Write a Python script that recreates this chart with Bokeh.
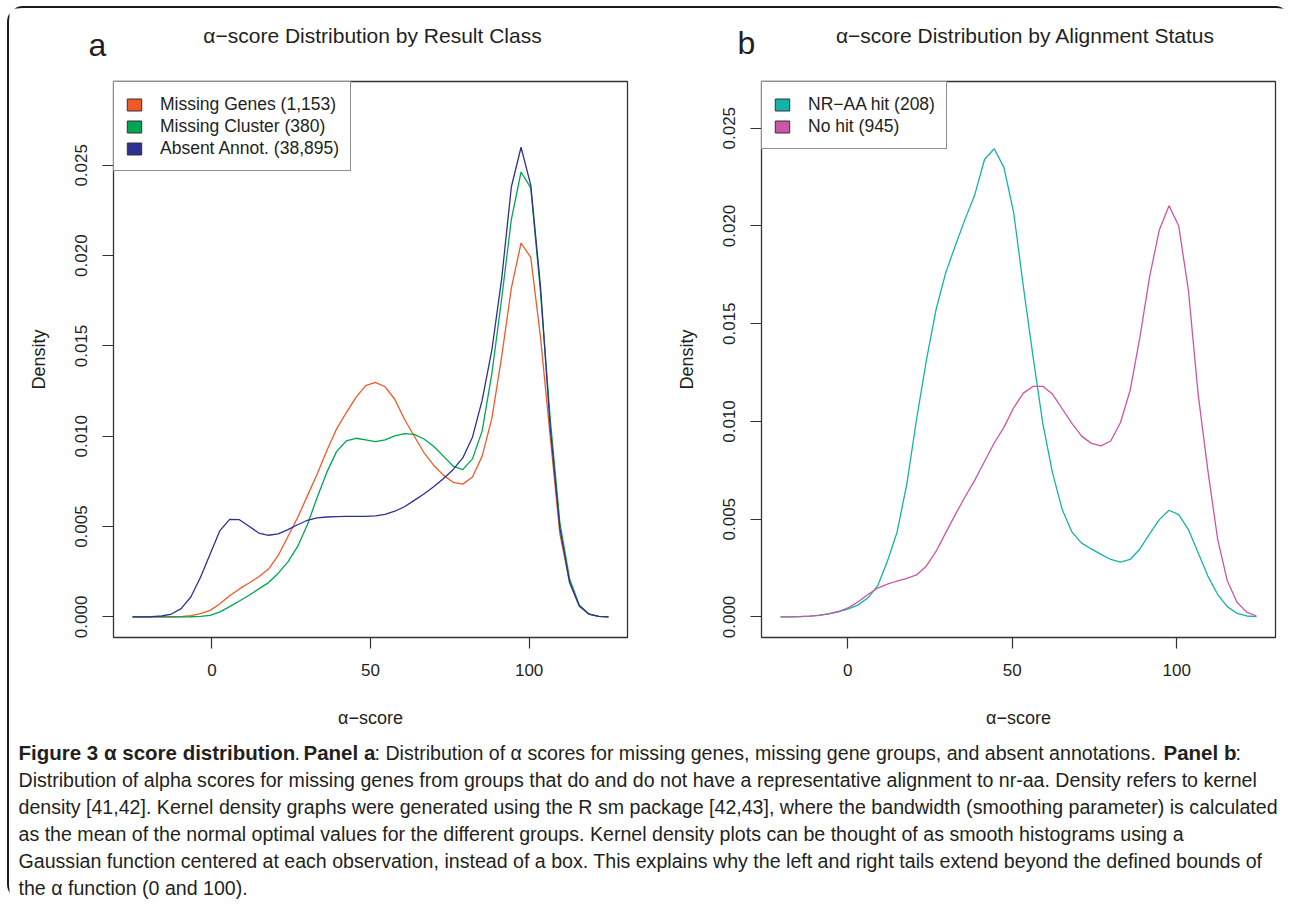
from bokeh.plotting import figure
from bokeh.models import Range1d, FixedTicker, PrintfTickFormatter, Label, Legend, LegendItem
from bokeh.layouts import column, row
from bokeh.embed import file_html
from bokeh.resources import INLINE

FONT = "Liberation Sans"
TXT = "#231F20"

# ---------------- data ----------------
# Panel a: density evaluation grid and curves
alpha_a = [-25.0, -21.94, -18.88, -15.82, -12.76, -9.69, -6.63, -3.57, -0.51, 2.55,
           5.61, 8.67, 11.73, 14.8, 17.86, 20.92, 23.98, 27.04, 30.1, 33.16,
           36.22, 39.29, 42.35, 45.41, 48.47, 51.53, 54.59, 57.65, 60.71, 63.78,
           66.84, 69.9, 72.96, 76.02, 79.08, 82.14, 85.2, 88.27, 91.33, 94.39,
           97.45, 100.51, 103.57, 106.63, 109.69, 112.76, 115.82, 118.88, 121.94, 125.0]
missing_genes = [0.0, 0.0, 0.0, 0.0, 0.00001, 0.00002, 0.00007, 0.00018, 0.00036, 0.00073,
                 0.00117, 0.00155, 0.00188, 0.00222, 0.00265, 0.0034, 0.00445, 0.0055, 0.0067, 0.0079,
                 0.0092, 0.0104, 0.0113, 0.01215, 0.0128, 0.01298, 0.01274, 0.01205, 0.01094, 0.0100,
                 0.0091, 0.0084, 0.00785, 0.00745, 0.00735, 0.00775, 0.0089, 0.0110, 0.0144, 0.0182,
                 0.0207, 0.0199, 0.0155, 0.0100, 0.0046, 0.0019, 0.0006, 0.00015, 0.00003, 0.0]
missing_cluster = [0.0, 0.0, 0.0, 0.0, 0.0, 0.0, 0.00001, 0.00003, 0.00008, 0.00028,
                   0.00057, 0.00088, 0.0012, 0.00155, 0.0019, 0.00242, 0.00305, 0.0039, 0.0051, 0.0066,
                   0.0080, 0.00915, 0.00974, 0.00989, 0.0098, 0.0097, 0.0098, 0.01002, 0.01015, 0.0101,
                   0.00985, 0.00945, 0.0089, 0.00835, 0.00815, 0.00875, 0.0103, 0.0135, 0.0176, 0.0220,
                   0.02463, 0.02375, 0.0180, 0.0110, 0.0052, 0.0021, 0.00065, 0.00016, 0.00003, 0.0]
absent_annot = [0.0, 0.0, 0.00001, 0.00005, 0.00016, 0.00046, 0.0011, 0.0022, 0.0035, 0.00478,
                0.0054, 0.00538, 0.00502, 0.00464, 0.00452, 0.0046, 0.00483, 0.0051, 0.00535, 0.00548,
                0.00553, 0.00555, 0.00556, 0.00556, 0.00557, 0.00559, 0.00568, 0.00585, 0.0061, 0.00645,
                0.0068, 0.0072, 0.00765, 0.00815, 0.0088, 0.00995, 0.0120, 0.0148, 0.0187, 0.0238,
                0.0260, 0.0239, 0.0183, 0.0105, 0.0049, 0.0019, 0.0006, 0.00015, 0.00003, 0.0]
labels_a = ["Missing Genes (1,153)", "Missing Cluster (380)", "Absent Annot. (38,895)"]
colors_a = ["#F05A28", "#00A651", "#2E3192"]

# Panel b
alpha_b = [-20.4, -17.45, -14.5, -11.55, -8.6, -5.65, -2.69, 0.26, 3.21, 6.16,
           9.11, 12.06, 15.01, 17.96, 20.91, 23.87, 26.82, 29.77, 32.72, 35.67,
           38.62, 41.57, 44.52, 47.47, 50.42, 53.38, 56.33, 59.28, 62.23, 65.18,
           68.13, 71.08, 74.03, 76.98, 79.93, 82.89, 85.84, 88.79, 91.74, 94.69,
           97.64, 100.59, 103.54, 106.49, 109.44, 112.4, 115.35, 118.3, 121.25, 124.2]
nr_aa_hit = [0.0, 0.00001, 0.00002, 0.00004, 0.00009, 0.00017, 0.00028, 0.00041, 0.00062, 0.00098,
             0.0016, 0.00285, 0.00435, 0.0068, 0.0101, 0.0131, 0.0157, 0.0176, 0.0190, 0.02035,
             0.0216, 0.0234, 0.02395, 0.0230, 0.0207, 0.0169, 0.0133, 0.0099, 0.00737, 0.0055,
             0.00435, 0.00378, 0.00348, 0.0032, 0.00294, 0.0028, 0.00294, 0.00348, 0.00425, 0.00498,
             0.00546, 0.00524, 0.00447, 0.00328, 0.00209, 0.00116, 0.00053, 0.00019, 0.00005, 0.00002]
no_hit = [0.0, 0.00001, 0.00002, 0.00004, 0.00008, 0.00016, 0.00028, 0.00048, 0.00078, 0.00115,
          0.00148, 0.00168, 0.00184, 0.00198, 0.00215, 0.0026, 0.00335, 0.0043, 0.00525, 0.00615,
          0.0070, 0.00795, 0.0089, 0.0097, 0.0107, 0.01145, 0.0118, 0.0118, 0.0114, 0.01065,
          0.0099, 0.00925, 0.00888, 0.00875, 0.0090, 0.00995, 0.0116, 0.0143, 0.0174, 0.0198,
          0.02104, 0.0200, 0.0167, 0.0114, 0.0075, 0.0040, 0.00185, 0.00075, 0.00025, 0.00005]
labels_b = ["NR\u2212AA hit (208)", "No hit (945)"]
colors_b = ["#14B3AA", "#CC55A8"]

x_ticks = [0, 50, 100]
y_ticks = [0.0, 0.005, 0.010, 0.015, 0.020, 0.025]

title_a = "\u03b1\u2212score Distribution by Result Class"
title_b = "\u03b1\u2212score Distribution by Alignment Status"
x_label = "\u03b1\u2212score"
y_label = "Density"

caption_lines = [
    [("Figure 3 \u03b1 score distribution", "bold", 18),
     (".", "normal", 294),
     ("Panel a", "bold", 303),
     (": Distribution of \u03b1 scores for missing genes, missing gene groups, and absent annotations.", "normal", 374),
     ("Panel b", "bold", 1163),
     (":", "normal", 1235)],
    [("Distribution of alpha scores for missing genes from groups that do and do not have a representative alignment to nr-aa. Density refers to kernel", "normal", 18)],
    [("density [41,42]. Kernel density graphs were generated using the R sm package [42,43], where the bandwidth (smoothing parameter) is calculated", "normal", 18)],
    [("as the mean of the normal optimal values for the different groups. Kernel density plots can be thought of as smooth histograms using a", "normal", 18)],
    [("Gaussian function centered at each observation, instead of a box. This explains why the left and right tails extend beyond the defined bounds of", "normal", 18)],
    [("the \u03b1 function (0 and 100).", "normal", 18)],
]

OX, OY = 9, 8          # page offset of the layout content (inside the frame border)
HEADER_H = 71


def make_panel(xs, series, labels, colors, xr, yr, bl, br):
    p = figure(width=641, height=651, x_range=Range1d(*xr), y_range=Range1d(*yr),
               toolbar_location=None, output_backend="svg",
               min_border_left=bl, min_border_right=br, min_border_top=2, min_border_bottom=92)
    p.xgrid.visible = False
    p.ygrid.visible = False
    p.background_fill_color = "white"
    p.border_fill_color = "white"
    p.outline_line_color = "#333333"
    p.outline_line_width = 1.3
    for ax in p.axis:
        ax.axis_line_color = None
        ax.major_tick_line_color = "#333333"
        ax.major_tick_line_width = 1.2
        ax.major_tick_out = 11
        ax.major_tick_in = 0
        ax.minor_tick_line_color = None
        ax.major_label_text_font = FONT
        ax.major_label_text_font_size = "17px"
        ax.major_label_text_color = TXT
        ax.axis_label_text_font = FONT
        ax.axis_label_text_font_size = "18px"
        ax.axis_label_text_font_style = "normal"
        ax.axis_label_text_color = TXT
    p.xaxis.ticker = FixedTicker(ticks=x_ticks)
    p.yaxis.ticker = FixedTicker(ticks=y_ticks)
    p.yaxis.formatter = PrintfTickFormatter(format="%.3f")
    p.yaxis.major_label_orientation = "vertical"
    p.xaxis.major_label_standoff = 15
    p.yaxis.major_label_standoff = 15
    p.xaxis.axis_label = x_label
    p.yaxis.axis_label = y_label
    p.xaxis.axis_label_standoff = 29
    p.yaxis.axis_label_standoff = 24

    items = []
    for ys, lab, c in zip(series, labels, colors):
        # hidden zero-width bars under each curve: they only supply the legend swatch
        sw = p.quad(left=xs, right=xs, bottom=0, top=ys, fill_color=c,
                    line_color="#333333", line_width=1, visible=False)
        p.line(xs, ys, line_color=c, line_width=1.3)
        items.append(LegendItem(label=lab, renderers=[sw]))
    leg = Legend(items=items, location="top_left", margin=0, padding=11, spacing=0,
                 glyph_width=18, glyph_height=15, label_height=22, label_standoff=17,
                 label_text_font=FONT, label_text_font_size="17.5px", label_text_color=TXT,
                 border_line_color="#222222", border_line_width=1,
                 background_fill_color="white", background_fill_alpha=1.0,
                 inactive_fill_alpha=0.0)
    p.add_layout(leg)
    return p


def header_label(text, px, py, size, baseline):
    return Label(x=px - OX, y=OY + HEADER_H - py, x_units="screen", y_units="screen", text=text,
                 text_align="center", text_baseline=baseline, text_font=FONT,
                 text_font_size=size, text_color=TXT)


head = figure(width=1282, height=HEADER_H, x_range=Range1d(0, 1282), y_range=Range1d(0, HEADER_H),
              toolbar_location=None, output_backend="svg", min_border=0)
head.axis.visible = False
head.xgrid.visible = False
head.ygrid.visible = False
head.outline_line_color = None
head.background_fill_color = "white"
head.border_fill_color = "white"
head.add_layout(header_label(title_a, 372, 35, "21px", "middle"))
head.add_layout(header_label(title_b, 1025, 35, "21px", "middle"))
head.add_layout(header_label("a", 97, 44, "32px", "middle"))
head.add_layout(header_label("b", 746, 42, "32px", "middle"))

pa = make_panel(alpha_a, [missing_genes, missing_cluster, absent_annot], labels_a, colors_a,
                (-31.0, 131.0), (-0.00114, 0.02964), 104, 23)
pb = make_panel(alpha_b, [nr_aa_hit, no_hit], labels_b, colors_b,
                (-26.2, 130.0), (-0.00105, 0.02739), 111, 16)

cap = figure(width=1282, height=170, x_range=Range1d(0, 1282), y_range=Range1d(0, 170),
             toolbar_location=None, output_backend="svg", min_border=0)
cap.axis.visible = False
cap.xgrid.visible = False
cap.ygrid.visible = False
cap.outline_line_color = None
cap.background_fill_color = "white"
cap.border_fill_color = "white"
line_y = [148, 121, 94, 67, 40, 13]
for segs, yy in zip(caption_lines, line_y):
    for text, style, px in segs:
        cap.add_layout(Label(x=px - OX, y=yy, x_units="screen", y_units="screen", text=text,
                             text_align="left", text_baseline="middle", text_font=FONT,
                             text_font_size="20.5px" if style == "bold" else "19.6px",
                             text_font_style=style, text_color=TXT))

layout = column(head, row(pa, pb), cap, margin=(6, 0, 0, 7),
                styles={"border-left": "2px solid #1a1a1a", "border-top": "2px solid #1a1a1a",
                        "border-top-left-radius": "16px", "border-bottom-left-radius": "16px",
                        "border-top-right-radius": "16px"})

open("out.html", "w").write(file_html(layout, INLINE))
